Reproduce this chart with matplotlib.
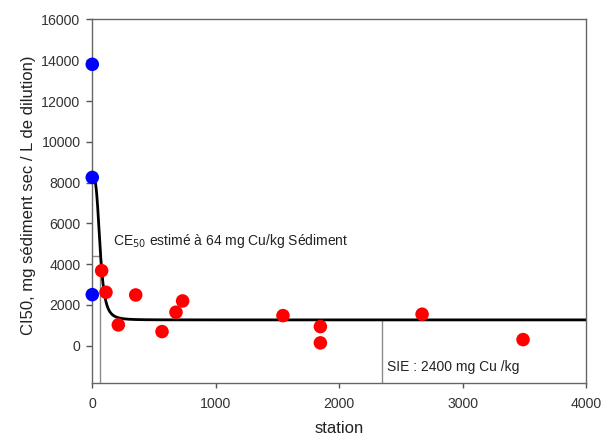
import numpy as np
import matplotlib
matplotlib.use("Agg")
import matplotlib.pyplot as plt

plt.rcParams['font.family'] = ['Liberation Sans', 'DejaVu Sans']

# Data
blue_x = [0, 0, 0]
blue_y = [13800, 8250, 2500]
red_x = [76, 111, 211, 352, 565, 678, 732, 1545, 1848, 1848, 2672, 3490]
red_y = [3675, 2616, 1014, 2484, 686, 1637, 2190, 1470, 931, 132, 1539, 294]

# Fitted log-logistic curve parameters
fit_top = 8250
fit_bottom = 1260
fit_ec50 = 64
fit_slope = 3.5

ce50_x = 64
ce50_y = 4400
sie_x = 2345

x_ticks = [0, 1000, 2000, 3000, 4000]
y_ticks = [0, 2000, 4000, 6000, 8000, 10000, 12000, 14000, 16000]

fig = plt.figure(figsize=(6.16, 4.40), dpi=100)
ax = fig.add_axes([0.1498, 0.1289, 0.8015, 0.8268])

xc = np.linspace(0, 4000, 4001)
yc = fit_bottom + (fit_top - fit_bottom) / (1 + (xc / fit_ec50) ** fit_slope)

ax.plot([ce50_x, ce50_x], [-1850, ce50_y], color='#8c8c8c', lw=1.0, zorder=1)
ax.plot([0, ce50_x], [ce50_y, ce50_y], color='#8c8c8c', lw=1.0, zorder=1)
ax.plot([sie_x, sie_x], [-1850, fit_bottom], color='#8c8c8c', lw=1.0, zorder=1)
ax.plot(xc, yc, color='black', lw=2.0, zorder=2)

ax.scatter(red_x, red_y, s=95, color='#ff0000', edgecolors='none', zorder=3, clip_on=False)
ax.scatter(blue_x, blue_y, s=95, color='#0000ff', edgecolors='none', zorder=4, clip_on=False)

ax.set_xlim(0, 4000)
ax.set_ylim(-1850, 16000)
ax.set_xticks(x_ticks)
ax.set_yticks(y_ticks)
ax.tick_params(direction='out', width=1, colors='#555555', labelcolor='#333333', labelsize=10.2)
ax.tick_params(axis='y', length=4.5, pad=4)
ax.tick_params(axis='x', length=3.5, pad=6.5)
for s in ax.spines.values():
    s.set_color('#666666')
    s.set_linewidth(1.0)

ax.set_xlabel('station', fontsize=12, color='#222222')
ax.xaxis.set_label_coords(0.5, -0.104)
ax.set_ylabel('CI50, mg sédiment sec / L de dilution)', fontsize=12, color='#222222')
ax.yaxis.set_label_coords(-0.113, 0.518)

ax.text(168, 5130, r'CE$_{50}$ estimé à 64 mg Cu/kg Sédiment', fontsize=10, color='#222222', va='center')
ax.text(2388, -1044, 'SIE : 2400 mg Cu /kg', fontsize=10, color='#222222', va='center')

fig.savefig('out.png', dpi=100)
